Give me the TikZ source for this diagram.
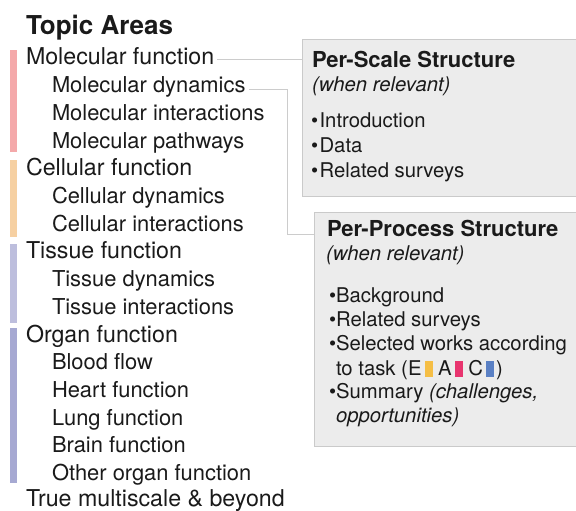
\documentclass[tikz,border=0pt]{standalone}
\usepackage{fontspec}
\setmainfont{TeX Gyre Heros}
\usetikzlibrary{calc}
\definecolor{cmol}{HTML}{F4A9AA}
\definecolor{ccel}{HTML}{F6D0A2}
\definecolor{ctis}{HTML}{BDBEDD}
\definecolor{corg}{HTML}{A6A9D2}
\definecolor{boxfill}{HTML}{ECECEC}
\definecolor{boxline}{HTML}{CACACA}
\definecolor{connline}{HTML}{CCCCCC}
\definecolor{txt}{HTML}{1A1A1A}
\definecolor{sqE}{HTML}{F5BE45}
\definecolor{sqA}{HTML}{E8356F}
\definecolor{sqC}{HTML}{5A80C4}
\newcommand{\tasksq}[1]{\textcolor{#1}{\raisebox{-2pt}{\rule{8pt}{16pt}}}}
\begin{document}
\begin{tikzpicture}[x=1pt,y=-1pt,
  every node/.style={inner sep=0pt, outer sep=0pt, text=txt},
  titletext/.style={font=\bfseries\fontsize{26}{30}\selectfont, anchor=base west},
  headitem/.style={font=\fontsize{23.2}{27}\selectfont, anchor=base west},
  subitem/.style={font=\fontsize{21.9}{27}\selectfont, anchor=base west},
  boxhead/.style={font=\bfseries\fontsize{22}{26}\selectfont, anchor=base west},
  boxitem/.style={font=\fontsize{20.3}{24}\selectfont, anchor=base west},
  boxital/.style={font=\itshape\fontsize{20.3}{24}\selectfont, anchor=base west},
  panel/.style={draw=boxline, fill=boxfill, line width=0.8pt, anchor=north west},
  conn/.style={draw=connline, line width=1pt}
]
\useasboundingbox (0,0) rectangle (576,511);

% colour bars
\fill[cmol] (10,50) rectangle (17,152);
\fill[ccel] (10,160) rectangle (17,237);
\fill[ctis] (10,244) rectangle (17,323);
\fill[corg] (10,328) rectangle (17,483);

% boxes
\node[panel, minimum width=276pt, minimum height=157pt] (box1) at (302,39) {};
\node[panel, minimum width=264pt, minimum height=234pt] (box2) at (314,212) {};

% title
\node[titletext] (title) at (26,35) {Topic Areas};

% left list
\node[headitem] (molf) at (26,65.0) {Molecular function};
\node[subitem]  (mold) at (52,92.7) {Molecular dynamics};
\node[subitem]  (moli) at (52,120.4) {Molecular interactions};
\node[subitem]  (molp) at (52,148.1) {Molecular pathways};
\node[headitem] (celf) at (26,175.8) {Cellular function};
\node[subitem]  (celd) at (52,203.5) {Cellular dynamics};
\node[subitem]  (celi) at (52,231.2) {Cellular interactions};
\node[headitem] (tisf) at (26,258.9) {Tissue function};
\node[subitem]  (tisd) at (52,286.6) {Tissue dynamics};
\node[subitem]  (tisi) at (52,314.3) {Tissue interactions};
\node[headitem] (orgf) at (26,342.0) {Organ function};
\node[subitem]  (blood) at (52,369.7) {Blood flow};
\node[subitem]  (heart) at (52,397.4) {Heart function};
\node[subitem]  (lung) at (52,425.1) {Lung function};
\node[subitem]  (brain) at (52,452.8) {Brain function};
\node[subitem]  (other) at (52,480.5) {Other organ function};
\node[headitem] (multi) at (26,506.6) {True multiscale \& beyond};

% box 1 content
\node[boxhead] (b1h) at (312,67) {Per-Scale Structure};
\node[boxital] (b1w) at (312,92) {(when relevant)};
\node[boxitem] (b1a) at (311,128) {\textbullet\hspace{1.5pt}Introduction};
\node[boxitem] (b1b) at (311,152) {\textbullet\hspace{1.5pt}Data};
\node[boxitem] (b1c) at (311,177) {\textbullet\hspace{1.5pt}Related surveys};

% box 2 content
\node[boxhead] (b2h) at (327,236) {Per-Process Structure};
\node[boxital] (b2w) at (326,260) {(when relevant)};
\node[boxitem] (b2a) at (329,302) {\textbullet\hspace{0pt}Background};
\node[boxitem] (b2b) at (329,326) {\textbullet\hspace{0pt}Related surveys};
\node[boxitem] (b2c) at (329,350) {\textbullet\hspace{0pt}Selected works according};
\node[boxitem] (b2d) at (336,375) {to task (E\hspace{3pt}\tasksq{sqE} A\hspace{3pt}\tasksq{sqA} C\hspace{3pt}\tasksq{sqC}\hspace{2pt})};
\node[boxitem] (b2e) at (329,398) {\textbullet\hspace{0pt}Summary \textit{(challenges,}};
\node[boxitem] (b2f) at (336,422) {\textit{opportunities)}};

% connectors
\coordinate (molfend) at ([xshift=3pt,yshift=-3pt]molf.east);
\coordinate (moldend) at ([xshift=4pt,yshift=-2pt]mold.east);
\coordinate (elbow) at (287,234);
\draw[conn] (molfend) -- (molfend -| box1.west);
\draw[conn] (moldend) -| (elbow) -- (elbow -| box2.west);
\end{tikzpicture}
\end{document}
